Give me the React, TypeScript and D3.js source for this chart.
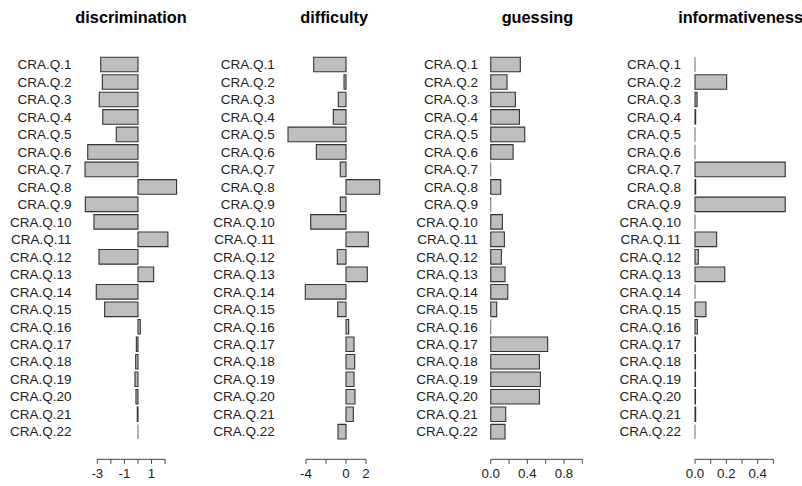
import React from "react";
import * as d3 from "d3";

const items = Array.from({ length: 22 }, (_, i) => `CRA.Q.${i + 1}`);

const discrimination = [-2.75, -2.63, -2.86, -2.6, -1.6, -3.71, -3.91, 2.85, -3.89, -3.25, 2.21, -2.88, 1.16, -3.08, -2.46, 0.17, -0.12, -0.17, -0.22, -0.15, -0.05, 0];
const difficulty = [-3.23, -0.2, -0.77, -1.27, -5.8, -2.97, -0.57, 3.37, -0.57, -3.53, 2.23, -0.87, 2.13, -4.07, -0.83, 0.27, 0.8, 0.87, 0.8, 0.9, 0.73, -0.8];
const guessing = [0.323, 0.178, 0.269, 0.313, 0.371, 0.244, 0, 0.109, 0, 0.127, 0.149, 0.116, 0.156, 0.186, 0.065, 0, 0.622, 0.531, 0.542, 0.531, 0.164, 0.156];
const informativeness = [0, 0.202, 0.013, 0.004, 0, 0, 0.576, 0.004, 0.576, 0, 0.138, 0.021, 0.19, 0, 0.07, 0.015, 0.003, 0.003, 0.003, 0.003, 0.004, 0];

const titles = ["discrimination", "difficulty", "guessing", "informativeness"];
const xlims: [number, number][] = [[-4.17, 3.14], [-6.13, 3.77], [-0.031, 1.05], [-0.025, 0.607]];
const tickValues = [[-3, -2, -1, 0, 1, 2], [-4, -2, 0, 2], [0, 0.2, 0.4, 0.6, 0.8, 1.0], [0, 0.1, 0.2, 0.3, 0.4, 0.5]];
const tickLabels = [["-3", "", "-1", "", "1", ""], ["-4", "", "0", "2"], ["0.0", "", "0.4", "", "0.8", ""], ["0.0", "", "0.2", "", "0.4", ""]];
const seriesList = [discrimination, difficulty, guessing, informativeness];

const W = 802, H = 486;
const FONT = "'Liberation Sans', Arial, Helvetica, sans-serif";

export default function App() {
  const y = d3.scaleLinear().domain([0.7, 0.7 + 1.2 * 21]).range([64.5, 431.7]);
  const unit = (y(1.9) - y(0.7)) / 1.2;
  const axisY = 459.3;
  return (
    <svg width={W} height={H} style={{ position: "absolute", left: 0, top: 0, background: "#fff" }} fontFamily={FONT}>
      {seriesList.map((vals, k) => {
        const left = 81.5 + 203.2 * k;
        const x = d3.scaleLinear().domain(xlims[k]).range([left, left + 99]);
        const ticks = tickValues[k];
        return (
          <g key={k}>
            <text x={left + 49.5} y={23} textAnchor="middle" fontWeight="bold" fontSize={16.3} fill="#000">{titles[k]}</text>
            {vals.map((v, i) => {
              const cy = y(0.7 + 1.2 * i);
              const x0 = x(Math.min(0, v));
              const x1 = x(Math.max(0, v));
              const y0 = cy - unit / 2, y1 = cy + unit / 2;
              const p = d3.path();
              p.moveTo(x0, y0); p.lineTo(x1, y0); p.lineTo(x1, y1); p.lineTo(x0, y1); p.closePath();
              return (
                <g key={i}>
                  <path d={p.toString()} fill="#bebebe" stroke={v === 0 ? "#777" : "#333"} strokeWidth={1.1} />
                  <text x={left - 10} y={cy} dy="0.35em" textAnchor="end" fontSize={13.5} fill="#222">{items[i]}</text>
                </g>
              );
            })}
            <line x1={x(ticks[0])} x2={x(ticks[ticks.length - 1])} y1={axisY} y2={axisY} stroke="#444" strokeWidth={1} />
            {ticks.map((t, j) => (
              <g key={j}>
                <line x1={x(t)} x2={x(t)} y1={axisY} y2={axisY + 4.5} stroke="#444" strokeWidth={1} />
                {tickLabels[k][j] && (
                  <text x={x(t)} y={axisY + 14.5} dy="0.35em" textAnchor="middle" fontSize={13.3} fill="#222">{tickLabels[k][j]}</text>
                )}
              </g>
            ))}
          </g>
        );
      })}
    </svg>
  );
}
